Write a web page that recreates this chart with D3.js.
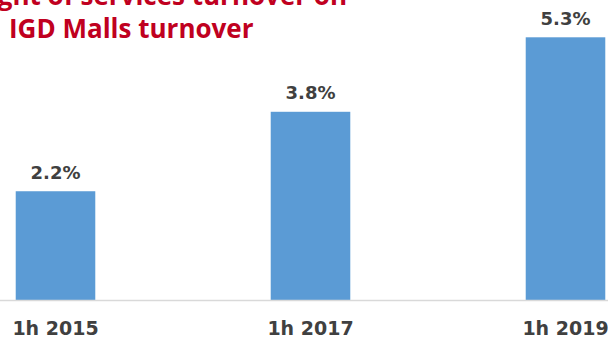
<!DOCTYPE html>
<html><head><meta charset="utf-8">
<script src="https://cdn.jsdelivr.net/npm/d3@7"></script>
<style>html,body{margin:0;padding:0;background:#fff;overflow:hidden}</style>
</head><body><svg id="c" width="608" height="337"></svg>
<script>
const categories = ["1h 2015", "1h 2017", "1h 2019"];
const values = [2.2, 3.8, 5.3];
const valueLabels = ["2.2%", "3.8%", "5.3%"];
const titleLines = ["Weight of services turnover on", "IGD Malls turnover"];

const svg = d3.select("#c");
const baseY = 300.5;
const x = d3.scaleBand().domain(categories).range([-72, 693]).paddingInner(0.688).paddingOuter(0.344);
const y = d3.scaleLinear().domain([0, 5.3]).range([baseY, 37.3]);

svg.selectAll("rect.bar").data(values).join("rect")
  .attr("class","bar")
  .attr("x",(d,i)=>x(categories[i]))
  .attr("width",x.bandwidth())
  .attr("y",d=>y(d))
  .attr("height",d=>baseY-y(d))
  .attr("fill","#5B9BD5");

const axis = d3.axisBottom(x).tickSize(0).tickPadding(0);
const g = svg.append("g").attr("transform",`translate(0,${baseY})`).call(axis);
g.select(".domain").attr("d","M0,0H608").attr("stroke","#d9d9d9").attr("stroke-width",1.5);
g.selectAll(".tick text").attr("y",34).attr("dy",null)
  .attr("font-family","DejaVu Sans").attr("font-weight","bold").attr("font-size","19px").attr("fill","#404040");

svg.selectAll("text.val").data(values).join("text")
  .attr("class","val")
  .attr("x",(d,i)=>x(categories[i])+x.bandwidth()/2)
  .attr("y",d=>y(d)-12.5)
  .attr("text-anchor","middle")
  .attr("font-family","DejaVu Sans").attr("font-weight","bold").attr("font-size","18px").attr("fill","#404040")
  .text((d,i)=>valueLabels[i]);

svg.append("text").attr("x",347).attr("y",5).attr("text-anchor","end")
  .attr("font-family","Open Sans").attr("font-weight","bold").attr("font-size","26px").attr("fill","#C00020")
  .text(titleLines[0]);
svg.append("text").attr("x",9).attr("y",38)
  .attr("font-family","Open Sans").attr("font-weight","bold").attr("font-size","26px").attr("fill","#C00020")
  .text(titleLines[1]);
</script></body></html>
